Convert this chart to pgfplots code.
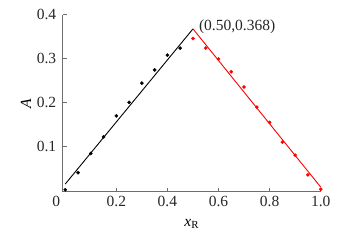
\documentclass[border=0pt]{standalone}
\usepackage{pgfplots}
\pgfplotsset{compat=1.18}
\usepackage{fontspec}
\setmainfont{Liberation Serif}
\definecolor{axgray}{RGB}{110,110,110}
\begin{document}
\begin{tikzpicture}[x=1pt,y=1pt]
\begin{axis}[
  scale only axis,
  width=258pt, height=176.8pt,
  xmin=-0.01, xmax=1.0, ymin=-0.0046, ymax=0.4,
  axis x line=bottom, axis y line=left,
  axis line style={axgray, line width=1pt, -},
  every tick/.style={axgray, line width=0.8pt},
  tick align=inside,
  major tick length=4pt,
  xtick={0.2,0.4,0.6,0.8,1.0},
  xticklabels={0.2,0.4,0.6,0.8,1.0},
  extra x ticks={0},
  extra x tick labels={0},
  extra x tick style={major tick length=0pt, xticklabel style={xshift=-9pt}},
  ytick={0.1,0.2,0.3,0.4},
  yticklabels={0.1,0.2,0.3,0.4},
  tick label style={font=\rmfamily\fontsize{15.5}{18}\selectfont, text=black!85},
  xticklabel style={yshift=-1pt},
  yticklabel style={xshift=-3pt},
  label style={font=\rmfamily\fontsize{15.5}{18}\selectfont},
  xlabel={\textit{x}\textsubscript{R}},
  ylabel={\textit{A}},
  xlabel style={at={(axis description cs:0.5,0)}, anchor=north, yshift=-24pt},
  ylabel style={at={(axis description cs:0,0.5)}, anchor=south, yshift=28pt},
  clip=false,
]
\coordinate (O) at (rel axis cs:0,0);
\addplot[only marks, mark=*, mark size=1.6pt, black] coordinates {
 (0,0.0) (0.05,0.039) (0.10,0.083) (0.15,0.121) (0.20,0.169)
 (0.25,0.200) (0.30,0.244) (0.35,0.274) (0.40,0.308) (0.45,0.324)
};
\addplot[black, line width=0.9pt] coordinates {(0.0,0.013) (0.5,0.368)};
\addplot[only marks, mark=*, mark size=1.6pt, red] coordinates {
 (0.50,0.346) (0.55,0.324) (0.60,0.299) (0.65,0.270) (0.70,0.235)
 (0.75,0.189) (0.80,0.154) (0.85,0.109) (0.90,0.079) (0.95,0.034) (1.0,0.001)
};
\addplot[red, line width=0.9pt] coordinates {(0.5,0.368) (1.0,0.006)};
\node[anchor=west, font=\rmfamily\fontsize{15.5}{18}\selectfont, inner sep=0pt, text=black!85] at (axis cs:0.523,0.372) {(0.50,0.368)};
\end{axis}
\path[use as bounding box] ([shift={(-62.7pt,-52.3pt)}]O) rectangle ([shift={(287.3pt,191.7pt)}]O);
\end{tikzpicture}
\end{document}
